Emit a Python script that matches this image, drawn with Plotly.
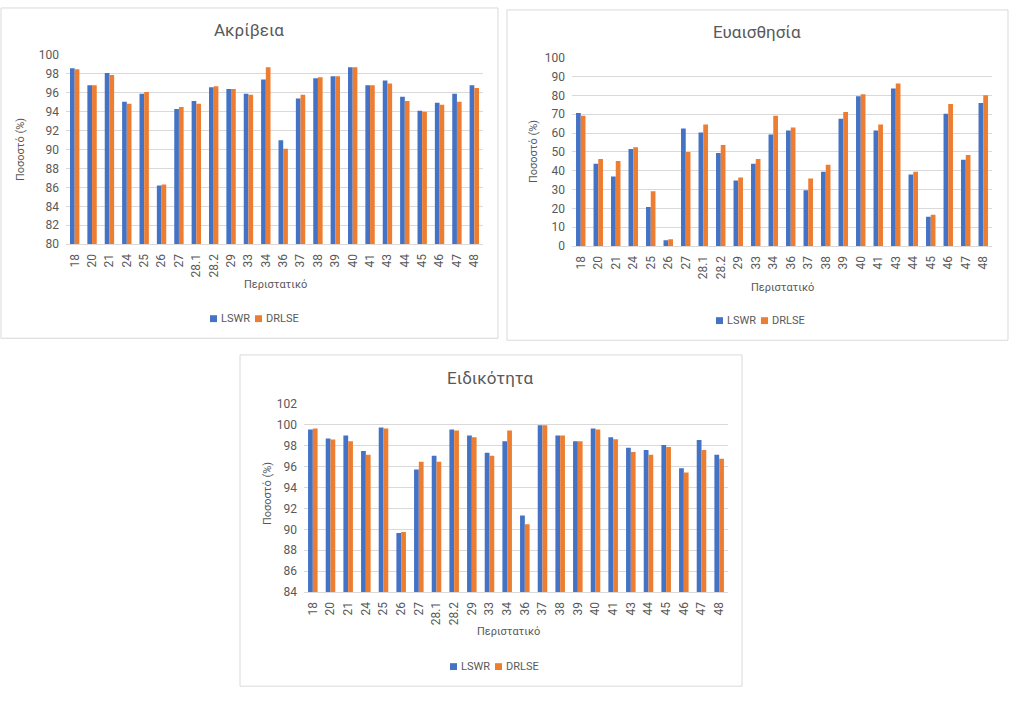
import plotly.graph_objects as go

categories = ["18", "20", "21", "24", "25", "26", "27", "28.1", "28.2", "29", "33", "34",
              "36", "37", "38", "39", "40", "41", "43", "44", "45", "46", "47", "48"]

acc_lswr = [98.6, 96.8, 98.1, 95.05, 95.9, 86.2, 94.3, 95.15, 96.6, 96.4, 95.9, 97.4,
            91.0, 95.4, 97.55, 97.75, 98.7, 96.8, 97.3, 95.6, 94.1, 94.95, 95.9, 96.8]
acc_drlse = [98.5, 96.8, 97.9, 94.85, 96.1, 86.3, 94.5, 94.85, 96.7, 96.4, 95.8, 98.7,
             90.1, 95.8, 97.65, 97.75, 98.7, 96.8, 97.0, 95.15, 94.0, 94.75, 95.05, 96.5]

sens_lswr = [70.7, 43.7, 36.9, 51.5, 20.8, 3.1, 62.4, 60.3, 49.4, 34.8, 43.7, 59.3,
             61.4, 29.6, 39.5, 67.6, 79.5, 61.4, 83.7, 38.0, 15.6, 70.2, 45.8, 75.9]
sens_drlse = [69.2, 46.3, 45.2, 52.5, 29.1, 3.6, 49.9, 64.5, 53.6, 36.4, 46.3, 69.2,
              62.9, 35.9, 43.2, 71.2, 80.6, 64.5, 86.3, 39.5, 16.6, 75.4, 48.4, 80.1]

spec_lswr = [99.56, 98.7, 98.97, 97.5, 99.75, 89.65, 95.73, 97.04, 99.56, 98.97, 97.32, 98.44,
             91.33, 99.97, 98.97, 98.44, 99.66, 98.82, 97.82, 97.6, 98.07, 95.85, 98.54, 97.13]
spec_drlse = [99.66, 98.6, 98.44, 97.13, 99.66, 89.74, 96.48, 96.48, 99.47, 98.82, 97.04, 99.47,
              90.49, 99.97, 98.97, 98.44, 99.56, 98.63, 97.41, 97.13, 97.88, 95.45, 97.6, 96.76]

series_names = ["LSWR", "DRLSE"]
titles = ["Ακρίβεια", "Ευαισθησία", "Ειδικότητα"]
x_title = "Περιστατικό"
y_title = "Ποσοστό (%)"

W, H = 1023, 703
FONT = "Roboto, 'Noto Sans', 'DejaVu Sans', sans-serif"
TXT = "#595959"
GRID = "#D9D9D9"
BLUE = "#4472C4"
ORANGE = "#ED7D31"
COLORS = [BLUE, ORANGE]


def px(x):
    return x / W


def py(y):
    return 1 - y / H


# chart layout specs (pixel geometry)
charts = [
    dict(data=(acc_lswr, acc_drlse), rng=(80, 100), dtick=2,
         plot=(66, 483, 49, 242), box=(1, 498, 1, 338),
         title=(249, 23), xt=(275, 283), yt=(20, 146), leg=(210, 318)),
    dict(data=(sens_lswr, sens_drlse), rng=(0, 100), dtick=10,
         plot=(572, 992, 51.7, 244), box=(507, 1008, 3, 340),
         title=(757, 25), xt=(782, 286), yt=(533, 148), leg=(716, 320)),
    dict(data=(spec_lswr, spec_drlse), rng=(84, 102), dtick=2,
         plot=(304, 728, 405, 597), box=(240, 742, 355, 693),
         title=(490, 379), xt=(508, 637), yt=(267, 497), leg=(450, 673)),
]

fig = go.Figure()
layout = dict(
    width=W, height=H, margin=dict(l=0, r=0, t=0, b=0),
    paper_bgcolor="white", plot_bgcolor="white",
    barmode="group", bargap=0.46, bargroupgap=0, showlegend=False,
    font=dict(family=FONT, color=TXT, size=12),
)
annotations = []
shapes = []

for i, c in enumerate(charts, start=1):
    sfx = "" if i == 1 else str(i)
    for name, vals, col in zip(series_names, c["data"], COLORS):
        fig.add_trace(go.Bar(
            x=categories, y=vals, name=name, marker=dict(color=col, line=dict(width=0)),
            xaxis="x" + sfx, yaxis="y" + sfx,
            hoverinfo="x+y+name",
        ))
    x0, x1, y0, y1 = c["plot"]
    layout["xaxis" + sfx] = dict(
        domain=[px(x0), px(x1)], anchor="y" + sfx, type="category",
        showgrid=False, showline=True, linecolor=GRID, linewidth=1,
        tickangle=-90, ticks="", tickfont=dict(size=12, color=TXT, family=FONT),
        ticklabelstandoff=4, fixedrange=True,
    )
    layout["yaxis" + sfx] = dict(
        domain=[py(y1), py(y0)], anchor="x" + sfx, range=list(c["rng"]),
        dtick=c["dtick"], tick0=0, showgrid=True, gridcolor=GRID, gridwidth=1,
        zeroline=False, showline=False, ticks="",
        tickfont=dict(size=12, color=TXT, family=FONT), ticklabelstandoff=6,
        fixedrange=True,
    )
    # legend (marker squares + labels), Excel style
    lx, ly = c["leg"]
    offsets = [0, 45]
    for name, col, off in zip(series_names, COLORS, offsets):
        mx = lx + off
        shapes.append(dict(type="rect", xref="paper", yref="paper",
                           x0=px(mx), x1=px(mx + 7), y0=py(ly + 3.5), y1=py(ly - 3.5),
                           line=dict(width=0), fillcolor=col))
        annotations.append(dict(text=name, x=px(mx + 9), y=py(ly), xref="paper", yref="paper",
                                xanchor="left", yanchor="middle", showarrow=False,
                                font=dict(size=11, color=TXT, family=FONT)))
    tx, ty = c["title"]
    annotations.append(dict(text=titles[i - 1], x=px(tx), y=py(ty), xref="paper", yref="paper",
                            xanchor="center", yanchor="middle", showarrow=False,
                            font=dict(size=17, color=TXT, family=FONT)))
    ax, ay = c["xt"]
    annotations.append(dict(text=x_title, x=px(ax), y=py(ay), xref="paper", yref="paper",
                            xanchor="center", yanchor="middle", showarrow=False,
                            font=dict(size=11, color=TXT, family=FONT)))
    yx, yy = c["yt"]
    annotations.append(dict(text=y_title, x=px(yx), y=py(yy), xref="paper", yref="paper",
                            xanchor="center", yanchor="middle", showarrow=False, textangle=-90,
                            font=dict(size=11, color=TXT, family=FONT)))
    bx0, bx1, by0, by1 = c["box"]
    shapes.append(dict(type="rect", xref="paper", yref="paper",
                       x0=px(bx0), x1=px(bx1), y0=py(by1), y1=py(by0),
                       line=dict(color=GRID, width=1), fillcolor="rgba(0,0,0,0)", layer="below"))

layout["annotations"] = annotations
layout["shapes"] = shapes
fig.update_layout(**layout)
fig.write_html(
    "out.html",
    config={"displayModeBar": False},
    post_script="document.body.style.margin='0';document.body.style.padding='0';"
                "document.body.style.overflow='hidden';",
)
